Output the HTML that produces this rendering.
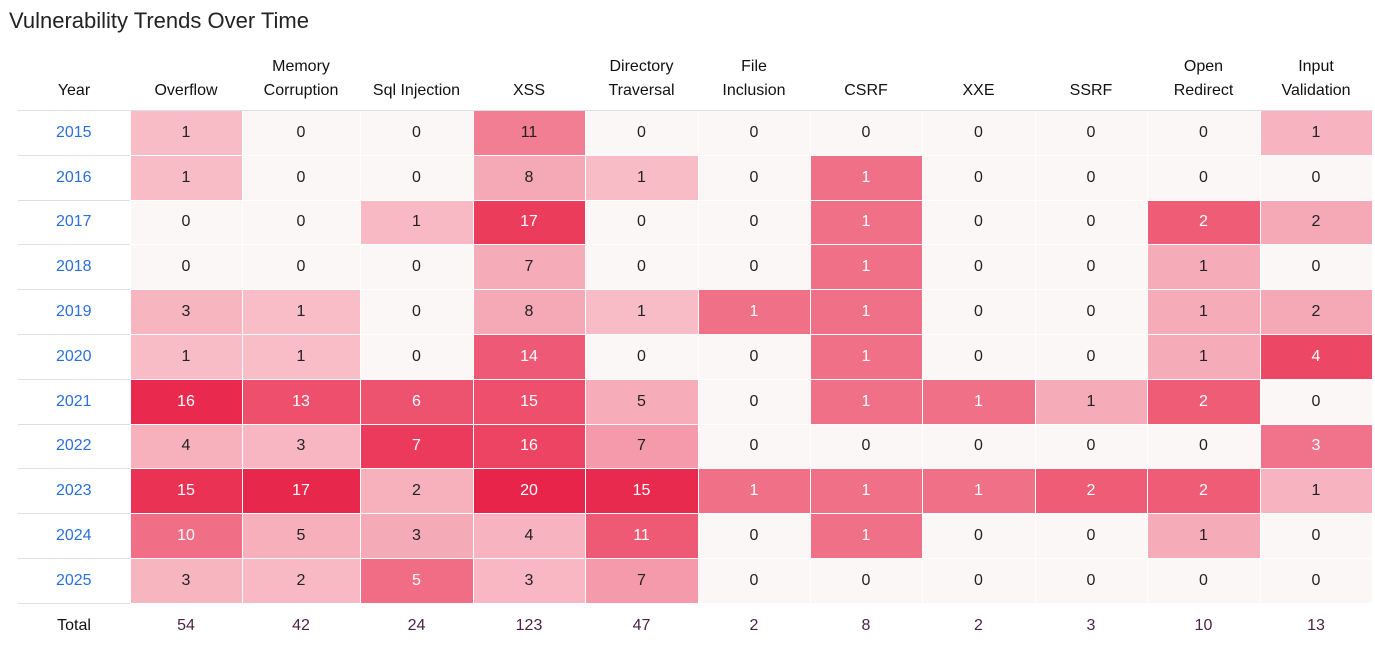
<!DOCTYPE html>
<html><head><meta charset="utf-8">
<style>
body{margin:0;background:#fff;font-family:"Liberation Sans",sans-serif;width:1375px;height:649px;overflow:hidden;position:relative}
h1{position:absolute;left:9px;top:8px;margin:0;font-size:22px;font-weight:normal;color:#222}
table{position:absolute;left:18px;top:50px;border-collapse:collapse;table-layout:fixed;font-size:16px}
th{font-weight:normal;color:#111;height:53px;vertical-align:bottom;padding:0 0 7px 0;line-height:24px;font-size:16px}
td{height:43.8px;text-align:center;padding:0;border:1px solid #fff;color:#222}
td.yr{color:#2a6fdb;border:none;border-top:1px solid #dedee6;background:#fff}
tr.hd th{border-bottom:1px solid #dedee6}
tr.tot td{border:none;border-top:1px solid #dedee6;background:#fff;color:#4a2346;height:44px}
tr.tot td.lab{color:#111}
</style></head><body>
<h1>Vulnerability Trends Over Time</h1>
<table id="t"></table>
<script>
const categories=["Overflow","Memory Corruption","Sql Injection","XSS","Directory Traversal","File Inclusion","CSRF","XXE","SSRF","Open Redirect","Input Validation"];
const headerLabels=["Overflow","Memory<br>Corruption","Sql Injection","XSS","Directory<br>Traversal","File<br>Inclusion","CSRF","XXE","SSRF","Open<br>Redirect","Input<br>Validation"];
const years=[2015,2016,2017,2018,2019,2020,2021,2022,2023,2024,2025];
const values=[
[1,0,0,11,0,0,0,0,0,0,1],
[1,0,0,8,1,0,1,0,0,0,0],
[0,0,1,17,0,0,1,0,0,2,2],
[0,0,0,7,0,0,1,0,0,1,0],
[3,1,0,8,1,1,1,0,0,1,2],
[1,1,0,14,0,0,1,0,0,1,4],
[16,13,6,15,5,0,1,1,1,2,0],
[4,3,7,16,7,0,0,0,0,0,3],
[15,17,2,20,15,1,1,1,2,2,1],
[10,5,3,4,11,0,1,0,0,1,0],
[3,2,5,3,7,0,0,0,0,0,0]];
const widths=[112,112,118,113,112,113,112,112,113,112,113,112];
const stops=[[0,[249,192,202]],[0.4,[245,168,181]],[0.6,[240,112,136]],[0.8,[236,68,98]],[1,[232,36,74]]];
function color(t){for(let i=1;i<stops.length;i++){if(t<=stops[i][0]){const a=stops[i-1],b=stops[i];const f=(t-a[0])/(b[0]-a[0]);return 'rgb('+a[1].map((v,k)=>Math.round(v+(b[1][k]-v)*f)).join(',')+')';}}return 'rgb(232,36,74)';}
const t=document.getElementById('t');
const cg=document.createElement('colgroup');
widths.forEach(w=>{const c=document.createElement('col');c.style.width=w+'px';cg.appendChild(c);});
t.appendChild(cg);
const hr=document.createElement('tr');hr.className='hd';


let th=document.createElement('th');th.textContent='Year';


hr.appendChild(th);
headerLabels.forEach((h,i)=>{const e=document.createElement('th');e.innerHTML=h;


hr.appendChild(e);});
t.appendChild(hr);
const maxes=categories.map((c,j)=>Math.max(...values.map(r=>r[j])));
years.forEach((y,i)=>{const tr=document.createElement('tr');


const yd=document.createElement('td');yd.className='yr';yd.textContent=y;


tr.appendChild(yd);
values[i].forEach((v,j)=>{const d=document.createElement('td');d.textContent=v;


const m=maxes[j];
if(v===0){d.style.background='#fbf7f7';}else{
const g=0.6+0.4*Math.min(1,Math.log(m)/Math.log(20));const tt=v/m*g;
d.style.background=color(tt);if(tt>0.57)d.style.color='#fff';}
tr.appendChild(d);});
t.appendChild(tr);});
const tr=document.createElement('tr');tr.className='tot';


const l=document.createElement('td');l.className='lab';l.textContent='Total';


tr.appendChild(l);
categories.forEach((c,j)=>{const d=document.createElement('td');d.textContent=values.reduce((s,r)=>s+r[j],0);


tr.appendChild(d);});
t.appendChild(tr);
</script>
</body></html>
